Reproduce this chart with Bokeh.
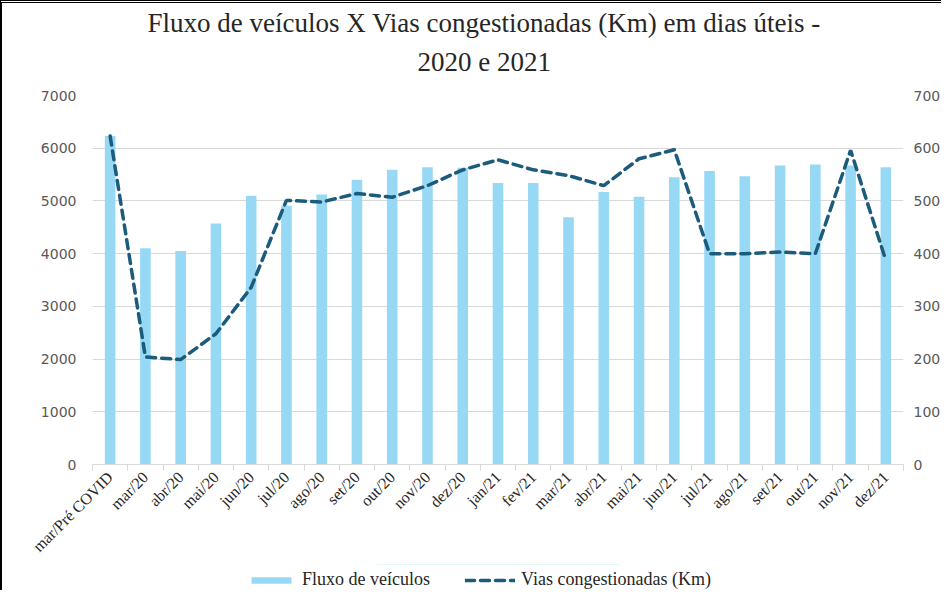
import math
from bokeh.plotting import figure
from bokeh.layouts import column
from bokeh.models import (Range1d, LinearAxis, FixedTicker,
                          Legend, LegendItem, Title, ColumnDataSource)
from bokeh.embed import file_html
from bokeh.resources import INLINE

categories = ["mar/Pré COVID", "mar/20", "abr/20", "mai/20", "jun/20", "jul/20",
              "ago/20", "set/20", "out/20", "nov/20", "dez/20", "jan/21", "fev/21",
              "mar/21", "abr/21", "mai/21", "jun/21", "jul/21", "ago/21", "set/21",
              "out/21", "nov/21", "dez/21"]
fluxo_veiculos = [6230, 4100, 4050, 4570, 5100, 4910, 5120, 5400, 5590, 5640, 5630,
                  5340, 5340, 4690, 5170, 5080, 5450, 5570, 5470, 5670, 5690, 5670, 5640]
vias_congestionadas = [623, 204, 199, 248, 336, 501, 498, 514, 507, 529, 559, 578,
                       559, 548, 529, 580, 597, 400, 400, 403, 400, 596, 387]
left_ticks = [0, 1000, 2000, 3000, 4000, 5000, 6000, 7000]
right_ticks = [0, 100, 200, 300, 400, 500, 600, 700]

BAR_COLOR = "#97d9f5"
LINE_COLOR = "#1b5b7b"

n = len(categories)
xpos = [i + 0.5 for i in range(n)]
src = ColumnDataSource(dict(x=xpos, cat=categories, fluxo=fluxo_veiculos,
                            vias=vias_congestionadas))

p = figure(width=941, height=564, x_range=Range1d(0, n), y_range=Range1d(0, 7000),
           output_backend="svg", toolbar_location=None,
           min_border_left=90, min_border_right=38, min_border_top=92,
           min_border_bottom=103)
p.styles = {"border-left": "2px solid #000", "border-top": "3px double #000"}
p.outline_line_color = None
p.background_fill_color = "white"
p.border_fill_color = "white"

bars = p.vbar(x="x", top="fluxo", width=0.3, fill_color=BAR_COLOR,
              line_color=None, source=src)
p.extra_y_ranges = {"km": Range1d(0, 700)}
line = p.line(x="x", y="vias", y_range_name="km", line_color=LINE_COLOR,
              line_width=3.5, line_dash="9 6", line_cap="round", source=src)

# x axis
xa = p.xaxis[0]
xa.ticker = FixedTicker(ticks=xpos, minor_ticks=list(range(n + 1)))
xa.major_label_overrides = {x: c for x, c in zip(xpos, categories)}
xa.major_tick_line_color = None
xa.major_tick_out = 0
xa.minor_tick_in = 0
xa.minor_tick_out = 6
xa.minor_tick_line_color = "#d9d9d9"
xa.axis_line_color = "#d9d9d9"
xa.major_label_orientation = math.pi / 4
xa.major_label_standoff = 4
xa.major_label_text_font = "Liberation Serif"
xa.major_label_text_font_size = "16px"
xa.major_label_text_color = "#262626"

# left axis
ya = p.yaxis[0]
ya.ticker = FixedTicker(ticks=left_ticks)
ya.axis_line_color = None
ya.major_tick_line_color = None
ya.minor_tick_line_color = None
ya.major_tick_out = 0
ya.major_label_standoff = 16
ya.major_label_text_font = "DejaVu Sans"
ya.major_label_text_font_size = "14px"
ya.major_label_text_color = "#595959"

# right axis
ra = LinearAxis(y_range_name="km", ticker=FixedTicker(ticks=right_ticks))
ra.axis_line_color = None
ra.major_tick_line_color = None
ra.minor_tick_line_color = None
ra.major_tick_out = 0
ra.major_label_standoff = 10
ra.major_label_text_font = "DejaVu Sans"
ra.major_label_text_font_size = "14px"
ra.major_label_text_color = "#595959"
p.add_layout(ra, "right")

p.xgrid.visible = False
p.ygrid.grid_line_color = "#d9d9d9"
p.ygrid.ticker = FixedTicker(ticks=left_ticks)

# titles
t2 = Title(text="2020 e 2021", align="left", offset=325, standoff=37,
           text_font="Liberation Serif", text_font_size="27px",
           text_font_style="normal", text_color="#262626")
t1 = Title(text="Fluxo de veículos X Vias congestionadas (Km) em dias úteis -",
           align="left", offset=55, standoff=-23, text_font="Liberation Serif",
           text_font_size="27px", text_font_style="normal", text_color="#262626")
p.add_layout(t2, "above")
p.add_layout(t1, "above")

# legend strip below the chart (proxy glyphs lie outside its visible range)
lg = figure(width=941, height=26, x_range=Range1d(0, 1), y_range=Range1d(-2, -1),
            output_backend="svg", toolbar_location=None,
            x_axis_location=None, y_axis_location=None, min_border=0)
lg.styles = {"border-left": "2px solid #000"}
lg.outline_line_color = None
lg.grid.visible = False
proxy_src = ColumnDataSource(dict(x=[xpos[0]], top=[fluxo_veiculos[0]],
                                  y=[vias_congestionadas[0]]))
bar_proxy = lg.vbar(x="x", top="top", width=0.3, fill_color=BAR_COLOR,
                    line_color=None, source=proxy_src)
line_proxy = lg.line(x="x", y="y", line_color=LINE_COLOR, line_width=3.5,
                     line_dash="9 6", line_cap="round", source=proxy_src)
legend = Legend(items=[LegendItem(label="Fluxo de veículos", renderers=[bar_proxy]),
                       LegendItem(label="Vias congestionadas (Km)", renderers=[line_proxy])],
                orientation="horizontal", location=(154, 0),
                glyph_width=50, glyph_height=8, spacing=35, label_standoff=6,
                padding=2, margin=0,
                label_text_font="Liberation Serif", label_text_font_size="18px",
                label_text_color="#262626", border_line_color=None,
                background_fill_alpha=0)
lg.add_layout(legend, "center")

layout = column(p, lg, spacing=0)
open("out.html", "w").write(file_html(layout, INLINE))
